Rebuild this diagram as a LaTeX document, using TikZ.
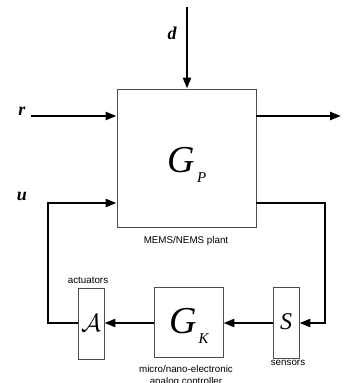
\documentclass[tikz,border=0pt]{standalone}
\usepackage{fontspec}
\setmainfont{Liberation Serif}
\newfontfamily\labfont{Liberation Sans}
\usetikzlibrary{arrows.meta}
\tikzset{
  blk/.style={draw=black!70, line width=0.9pt, minimum width=#1, inner sep=0pt},
  sig/.style={line width=2.3pt, -{Triangle[length=11pt,width=8pt]}},
  wire/.style={line width=2.3pt},
  captext/.style={font=\labfont\fontsize{9.8}{10}\selectfont, inner sep=0pt},
  var/.style={font=\bfseries\itshape\fontsize{18}{18}\selectfont, inner sep=0pt}
}
\begin{document}
\begin{tikzpicture}[x=1pt,y=-1pt]
\useasboundingbox (0,0) rectangle (344,383);
% blocks
\node[blk=139pt, minimum height=138pt] (plant) at (186.5,158) {};
\node[blk=26pt, minimum height=71pt] (act) at (91,323.5) {};
\node[blk=69pt, minimum height=70pt] (gk) at (188.5,322) {};
\node[blk=26pt, minimum height=71pt] (sen) at (286,322.5) {};
% block texts
\node[inner sep=0pt] (gp) at (187,165) {{\fontsize{38}{38}\selectfont\itshape G}\hspace{2pt}\raisebox{-10pt}{\fontsize{15}{15}\selectfont\itshape P}};
\node[inner sep=0pt] (gkt) at (189,326) {{\fontsize{38}{38}\selectfont\itshape G}\hspace{2pt}\raisebox{-10pt}{\fontsize{15}{15}\selectfont\itshape K}};
\node[inner sep=0pt] (at) at (91,323) {\fontsize{24}{24}\selectfont$\mathcal{A}$};
\node[inner sep=0pt] (st) at (286,322) {\fontsize{24}{24}\selectfont\itshape S};
% captions
\node[captext] (c1) at (186,241) {MEMS/NEMS plant};
\node[captext] (c2) at (88,280) {actuators};
\node[captext] (c3) at (288,363) {sensors};
\node[captext] (c4) at (186,369) {micro/nano-electronic};
\node[captext] (c5) at (186,381.5) {analog controller};
% signal labels
\node[var] (dl) at (172,33) {d};
\node[var] (rl) at (22,111) {r};
\node[var] (ul) at (22,196) {u};
% coordinates
\coordinate (dtop) at (187,7);
\coordinate (rstart) at (31,116);
\coordinate (yend) at (341,116);
\coordinate (ustart) at (48,203);
\coordinate (lcorner) at (48,323);
\coordinate (rtop) at (325,203);
\coordinate (rcorner) at (325,323);
% connectors
\draw[sig] (dtop) -- (plant.north -| dtop);
\draw[sig] (rstart) -- (plant.west |- rstart);
\draw[sig] (plant.east |- yend) -- (yend);
\draw[wire] (act.west |- lcorner) -- (lcorner) -- (ustart);
\draw[sig] ([xshift=-1.15pt]ustart) -- (plant.west |- ustart);
\draw[wire] (plant.east |- rtop) -- ([xshift=1.15pt]rtop) ;
\draw[wire] (rtop) -- (rcorner);
\draw[sig] ([xshift=1.15pt]rcorner) -- (sen.east |- rcorner);
\draw[sig] (sen.west |- rcorner) -- (gk.east |- rcorner);
\draw[sig] (gk.west |- rcorner) -- (act.east |- rcorner);
\end{tikzpicture}
\end{document}
